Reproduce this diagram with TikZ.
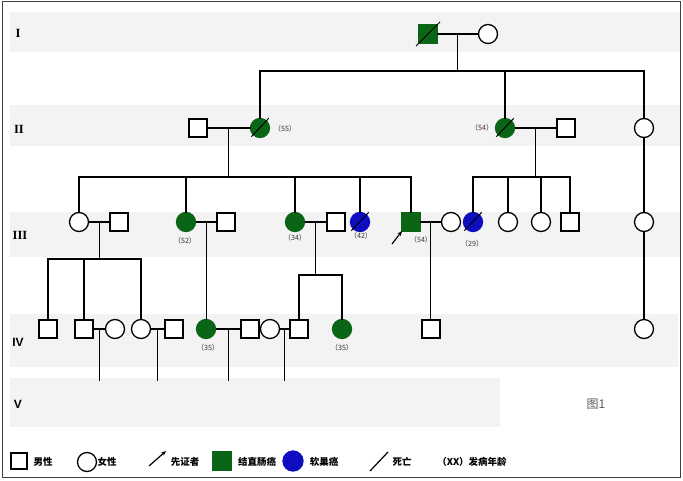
\documentclass[tikz,border=0pt]{standalone}
\usepackage{fontspec}
\newfontfamily\cjk{Noto Sans CJK SC}
\newfontfamily\romfont{Liberation Serif}
\newfontfamily\sansfont{Liberation Sans}
\usetikzlibrary{calc,arrows.meta}
\definecolor{ccgreen}{RGB}{10,102,22}
\definecolor{ocblue}{RGB}{14,14,192}
\definecolor{band}{RGB}{243,243,243}
\begin{document}
\begin{tikzpicture}[x=1pt,y=-1pt,inner sep=0pt,outer sep=0pt,line width=1.2pt,
male/.style={draw,rectangle,minimum size=18pt,line width=1.5pt,fill=white},
female/.style={draw,circle,minimum size=19pt,line width=1.3pt,fill=white},
crc/.style={fill=ccgreen,draw=ccgreen},
ovc/.style={fill=ocblue,draw=ocblue},
age/.style={font=\cjk\fontsize{7.2}{8}\selectfont,text=black!80},
gen/.style={font=\romfont\bfseries\fontsize{12.5}{14}\selectfont},
gensf/.style={font=\sansfont\bfseries\fontsize{12}{14}\selectfont},
key/.style={font=\cjk\bfseries\fontsize{9.5}{11}\selectfont}]
\useasboundingbox (0,0) rectangle (683,480);
\fill[white] (0,0) rectangle (683,480);
% generation bands
\foreach \top/\bot/\right in {12/52/680,105/146/680,212/257/680,314/367/678,378/427/500}
  \fill[band] (10,\top) rectangle (\right,\bot);
\draw[line width=0.8pt,black!75] (2.5,1.5) rectangle (680.5,477.5);
% generation labels
\node[gen] (gI) at (18,33) {I};
\node[gen] (gII) at (19,129) {II};
\node[gen] (gIII) at (20,235) {III};
\node[gensf] (gIV) at (18,342) {IV};
\node[gensf] (gV) at (18,404) {V};
% generation I
\node[male,crc] (I1) at (428,34) {};
\node[female] (I2) at (488,34) {};
% generation II
\node[male] (II1) at (198,128) {};
\node[female,crc] (II2) at (260,128) {};
\node[female,crc] (II3) at (505,128) {};
\node[male] (II4) at (566,128) {};
\node[female] (II5) at (644,128) {};
% generation III
\node[female] (III1) at (79,222) {};
\node[male] (III2) at (119,222) {};
\node[female,crc] (III3) at (186,222) {};
\node[male] (III4) at (226,222) {};
\node[female,crc] (III5) at (295,222) {};
\node[male] (III6) at (336,222) {};
\node[female,ovc] (III7) at (360,222) {};
\node[male,crc] (III8) at (411,222) {};
\node[female] (III9) at (451,222) {};
\node[female,ovc] (III10) at (473,222) {};
\node[female] (III11) at (508,222) {};
\node[female] (III12) at (541,222) {};
\node[male] (III13) at (570,222) {};
\node[female] (III14) at (644,222) {};
% generation IV
\node[male] (IV1) at (48,329) {};
\node[male] (IV2) at (84,329) {};
\node[female] (IV3) at (115,329) {};
\node[female] (IV4) at (141,329) {};
\node[male] (IV5) at (174,329) {};
\node[female,crc] (IV6) at (206,329) {};
\node[male] (IV7) at (250,329) {};
\node[female] (IV8) at (270,329) {};
\node[male] (IV9) at (299,329) {};
\node[female,crc] (IV10) at (342,329) {};
\node[male] (IV11) at (431,329) {};
\node[female] (IV12) at (644,329) {};
% couples
\foreach \a/\b in {I1/I2,II1/II2,II3/II4,III1/III2,III3/III4,III5/III6,III8/III9,IV2/IV3,IV4/IV5,IV6/IV7,IV8/IV9}
  \draw (\a) -- (\b);
% I -> II
\coordinate (m1) at ($(I1.east)!0.5!(I2.west)$);
\coordinate (j1) at ($(m1)+(0,37)$);
\draw (m1) -- (j1);
\draw (II2.north) |- (j1) -| (II5.north);
\draw (j1) -| (II3.north);
% II -> III
\coordinate (m2) at ($(II1.east)!0.5!(II2.west)$);
\coordinate (j2) at ($(m2)+(0,49)$);
\draw (m2) -- (j2);
\draw (III1.north) |- (j2) -| (III8.north);
\foreach \n in {III3,III5,III7} \draw (j2) -| (\n.north);
\coordinate (m3) at ($(II3.east)!0.5!(II4.west)$);
\coordinate (j3) at ($(m3)+(0,49)$);
\draw (m3) -- (j3);
\draw (III10.north) |- (j3) -| (III13.north);
\foreach \n in {III11,III12} \draw (j3) -| (\n.north);
\draw (II5) -- (III14);
\draw (III14) -- (IV12);
% III -> IV
\coordinate (m4) at ($(III1.east)!0.5!(III2.west)$);
\coordinate (j4) at ($(m4)+(0,37)$);
\draw (m4) -- (j4);
\draw (IV1.north) |- (j4) -| (IV4.north);
\draw (j4) -| (IV2.north);
\coordinate (m5) at ($(III3.east)!0.5!(III4.west)$);
\draw (m5) -- (m5 |- IV6.north);
\coordinate (m6) at ($(III5.east)!0.5!(III6.west)$);
\coordinate (j6) at ($(m6)+(0,53)$);
\draw (m6) -- (j6);
\draw (IV9.north) |- (j6) -| (IV10.north);
\coordinate (m7) at ($(III8.east)!0.5!(III9.west)$);
\draw (m7) -- (m7 |- IV11.north);
% IV -> V
\coordinate (v) at (0,381);
\foreach \a/\b in {IV2/IV3,IV4/IV5,IV6/IV7,IV8/IV9} {
  \coordinate (m) at ($(\a.east)!0.5!(\b.west)$);
  \draw (m) -- (m |- v);
}
% deceased
\draw[line width=1pt] ([shift={(-3,3)}]I1.south west) -- ([shift={(3,-3)}]I1.north east);
\foreach \n in {II2,II3,III7,III10}
  \draw[line width=1pt] ([shift={(-2,2)}]\n.south west) -- ([shift={(2,-3)}]\n.north east);
% proband
\coordinate (pa) at ($(III8.south west)+(-10,13)$);
\draw[-{Stealth[length=5pt,width=4pt]}] (pa) -- (III8.south west);
% onset ages
\node[age] (a1) at (285,129) {（55）};
\node[age] (a2) at (482,128) {（54）};
\node[age] (a3) at (185,241) {（52）};
\node[age] (a4) at (295,238) {（34）};
\node[age] (a5) at (361,236) {（42）};
\node[age] (a6) at (421,240) {（54）};
\node[age] (a7) at (472,244) {（29）};
\node[age] (a8) at (208,348) {（35）};
\node[age] (a9) at (342,348) {（35）};
\node[font=\cjk\fontsize{12}{14}\selectfont,text=black!65] (fig) at (596,404) {图1};
% key
\node[male,minimum size=16pt] (kmale) at (19,461) {};
\node[key] (tmale) at (43,462) {男性};
\node[female,minimum size=19pt] (kfem) at (87,462) {};
\node[key] (tfem) at (107,462) {女性};
\coordinate (ka) at (149,466);
\coordinate (kb) at (166,451);
\draw[-{Stealth[length=5pt,width=4pt]}] (ka) -- (kb);
\node[key] (tpro) at (185,462) {先证者};
\node[male,crc,minimum size=18pt] (kcrc) at (222,461) {};
\node[key] (tcrc) at (257,462) {结直肠癌};
\node[female,ovc,minimum size=20pt] (kovc) at (293,461) {};
\node[key] (tovc) at (324,462) {软巢癌};
\coordinate (kd1) at (370,471);
\coordinate (kd2) at (388,452);
\draw (kd1) -- (kd2);
\node[key] (tdead) at (402,462) {死亡};
\node[key] (tage) at (472,462) {（XX）发病年龄};
\end{tikzpicture}
\end{document}
